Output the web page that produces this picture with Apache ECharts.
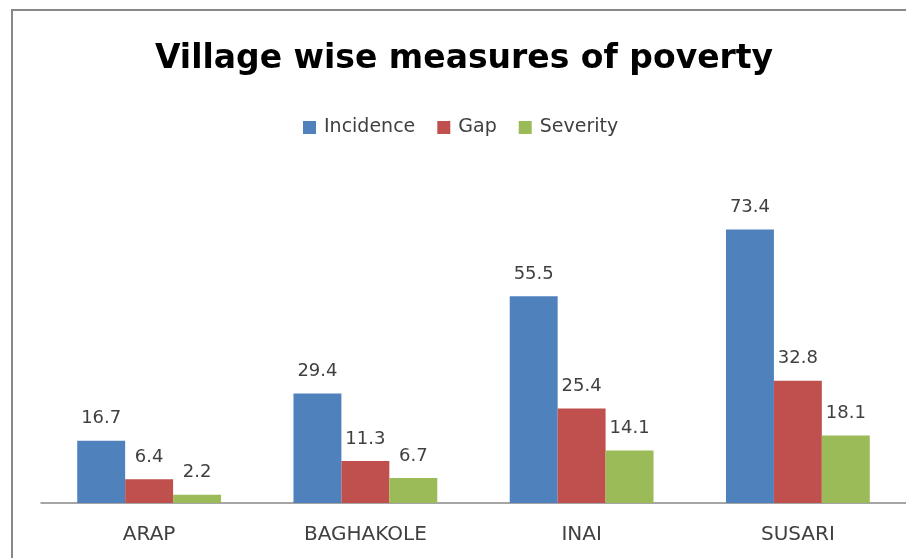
<!DOCTYPE html>
<html>
<head>
<meta charset="utf-8">
<script src="https://cdn.jsdelivr.net/npm/echarts@6/dist/echarts.min.js"></script>
<style>
  html, body { margin: 0; padding: 0; background: #fff; }
  #chart { width: 906px; height: 558px; }
</style>
</head>
<body>
<div id="chart"></div>
<script>
var villages = ['ARAP', 'BAGHAKOLE', 'INAI', 'SUSARI']
var incidence = [16.7, 29.4, 55.5, 73.4]
var gap = [6.4, 11.3, 25.4, 32.8]
var severity = [2.2, 6.7, 14.1, 18.1]

var myChart = echarts.init(document.getElementById('chart'))

function barSeries(name, data, color) {
    return {
        name: name,
        type: 'bar',
        data: data,
        barGap: '0%',
        barCategoryGap: '33.5%',
        itemStyle: { color: color },
        label: {
            show: true,
            position: 'top',
            distance: 13,
            color: '#404040',
            fontFamily: 'DejaVu Sans',
            fontSize: 18
        }
    }
}

var option = {
    backgroundColor: '#fff',
    animation: false,
    title: {
        text: 'Village wise measures of poverty',
        left: 459,
        top: 38,
        textAlign: 'center',
        textStyle: {
            fontFamily: 'DejaVu Sans',
            fontWeight: 'bold',
            fontSize: 33,
            color: '#000'
        }
    },
    legend: {
        left: 298,
        top: 113,
        itemWidth: 13,
        itemHeight: 13,
        itemGap: 22,
        icon: 'rect',
        textStyle: { fontFamily: 'DejaVu Sans', fontSize: 19, color: '#404040', padding: [0, 0, 0, 3] },
        data: ['Incidence', 'Gap', 'Severity']
    },
    grid: { left: 41, width: 876, top: 205, bottom: 55 },
    xAxis: {
        type: 'category',
        data: villages,
        axisLine: { lineStyle: { color: '#888', width: 1.5 } },
        axisTick: { show: false },
        axisLabel: { color: '#404040', fontFamily: 'DejaVu Sans', fontSize: 20, margin: 22 }
    },
    yAxis: {
        type: 'value',
        min: 0,
        max: 80,
        show: false,
        splitLine: { show: false }
    },
    graphic: [{
        type: 'rect',
        shape: { x: 12, y: 10, width: 1000, height: 1000 },
        style: { fill: 'none', stroke: '#888', lineWidth: 2 },
        silent: true
    }],
    series: [
        barSeries('Incidence', incidence, '#4F81BD'),
        barSeries('Gap', gap, '#C0504D'),
        barSeries('Severity', severity, '#9BBB59')
    ]
}
myChart.setOption(option)
</script>
</body>
</html>
